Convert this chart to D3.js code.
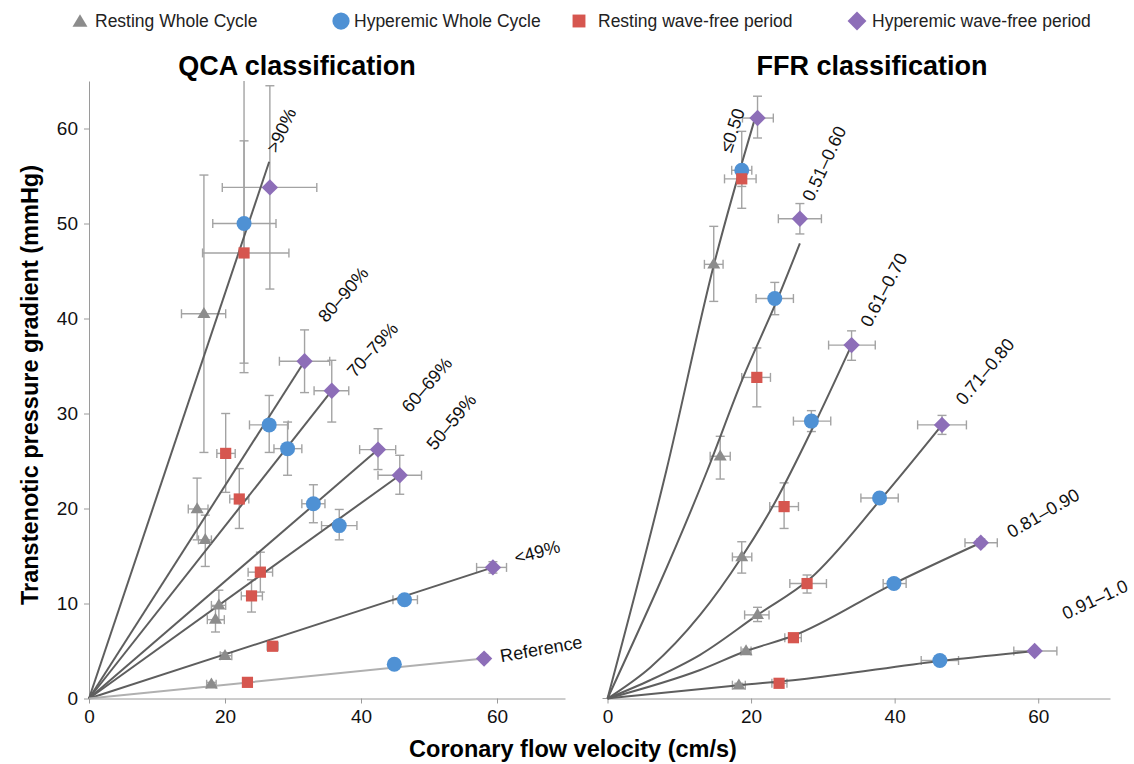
<!DOCTYPE html>
<html><head><meta charset="utf-8">
<script src="https://cdn.jsdelivr.net/npm/d3@7"></script>
<style>body{margin:0;background:#fff} svg{display:block;font-family:"Liberation Sans",Arial,Helvetica,sans-serif}</style>
</head><body><svg id="c" width="1134" height="764"></svg>
<script>
// ---------- data ----------
const seriesNames = ["Resting Whole Cycle","Hyperemic Whole Cycle","Resting wave-free period","Hyperemic wave-free period"];
const qcaClasses = [">90%","80–90%","70–79%","60–69%","50–59%","<49%","Reference"];
const ffrClasses = ["≤0.50","0.51–0.60","0.61–0.70","0.71–0.80","0.81–0.90","0.91–1.0"];
const xTicks = [0,20,40,60];
const yTicks = [0,10,20,30,40,50,60];

// each row: [velocity, gradient, velLo, velHi, gradLo, gradHi]
const qcaRestWhole = [
  [16.9,40.5,13.6,20.1,25.9,55.1],[15.9,19.95,14.6,17.5,16.7,23.2],[17.1,16.7,16.1,18.0,13.9,19.3],
  [19.1,9.8,18.0,20.1,8.3,11.4],[18.6,8.3,17.4,19.9,7.0,9.7],[20.0,4.5,19.3,21.0,4.2,4.8],[18.0,1.5,17.3,18.7,1.3,1.7]];
const qcaHypWhole = [
  [22.8,50.0,18.2,27.5,34.3,65.0],[26.5,28.8,23.6,29.3,25.9,31.9],[29.2,26.3,27.2,31.3,23.5,29.1],
  [33.0,20.5,31.3,34.7,18.5,22.5],[36.8,18.2,34.2,39.4,16.7,19.9],[46.4,10.4,44.7,48.3,10.0,10.8],[44.9,3.6,44.3,45.5,3.4,3.8]];
const qcaRestWF = [
  [22.8,46.9,16.7,29.4,35.3,58.7],[20.1,25.8,18.8,21.5,21.7,30.0],[22.1,21.0,20.7,23.5,17.9,24.2],
  [25.2,13.3,23.4,27.0,11.2,15.4],[23.9,10.8,22.4,25.5,9.1,12.5],[27.0,5.5,26.2,27.8,5.2,5.8],[23.3,1.7,22.8,23.8,1.5,1.9]];
const qcaHypWF = [
  [26.6,53.8,19.6,33.5,43.1,64.5],[31.7,35.5,28.0,35.4,32.2,38.8],[35.7,32.4,33.1,38.2,29.1,35.6],
  [42.5,26.2,39.8,45.1,24.1,28.4],[45.7,23.5,42.5,48.9,21.5,25.6],[59.4,13.8,57.0,61.4,13.2,14.4],[58.1,4.2,57.6,58.6,4.0,4.4]];

const ffrRestWhole = [
  [14.8,45.7,13.5,16.1,41.8,49.7],[15.7,25.5,14.3,17.1,23.1,27.6],[18.7,14.9,17.4,20.1,13.2,16.5],
  [20.9,8.8,19.1,22.5,8.1,9.6],[19.3,5.0,18.6,20.0,4.8,5.2],[18.3,1.4,17.4,19.2,1.2,1.6]];
const ffrHypWhole = [
  [18.7,55.6,17.3,20.1,51.6,59.7],[23.3,42.1,20.7,25.9,40.4,43.8],[28.4,29.2,25.9,31.1,28.1,30.3],
  [37.9,21.1,35.3,40.5,20.6,21.6],[39.9,12.1,38.4,41.6,11.8,12.4],[46.3,4.0,43.7,48.9,3.8,4.2]];
const ffrRestWF = [
  [18.7,54.7,16.3,20.7,53.9,55.5],[20.8,33.8,18.7,22.7,30.7,36.9],[24.6,20.2,22.6,26.6,17.9,22.7],
  [27.8,12.1,25.4,30.5,11.1,13.0],[25.9,6.4,24.7,27.0,6.2,6.6],[23.9,1.6,22.9,25.0,1.4,1.8]];
const ffrHypWF = [
  [20.9,61.1,18.8,23.1,59.0,63.4],[26.8,50.5,23.8,29.8,48.9,52.1],[34.0,37.2,30.8,37.3,35.6,38.7],
  [46.6,28.8,43.2,50.0,27.8,29.8],[52.0,16.4,49.8,54.3,16.0,16.8],[59.5,5.0,56.6,62.6,4.8,5.2]];

// fitted lines
const qcaFits = [
  [[0,0],[26.5,56.5]],[[0,0],[31.7,35.5]],[[0,0],[35.7,32.4]],[[0,0],[42.5,26.2]],
  [[0,0],[45.7,23.5]],[[0,0],[59.4,13.8]],[[0,0],[58.1,4.2]]];
const ffrFits = [
  [[0,0],[8.2,24.0],[14.8,45.6],[20.4,60.7]],
  [[0,0],[13.9,24.0],[18.9,33.8],[23.6,41.9],[26.8,47.9]],
  [[0,0],[6.0,3.3],[12.9,8.8],[18.7,14.9],[23.3,20.6],[28.6,28.5],[34.0,37.2]],
  [[0,0],[6.0,1.95],[12.9,4.6],[20.9,8.8],[28.2,12.6],[38.0,20.9],[46.6,28.8]],
  [[0,0],[12.9,3.0],[19.3,5.0],[25.9,6.6],[39.9,12.1],[52.0,16.4]],
  [[0,0],[18.3,1.4],[26.8,2.0],[46.3,3.95],[59.5,5.0]]];

// class label anchors (data units) and rotation
const qcaLabelAt = [[28.3,59.8,-65],[37.4,42.5,-49],[41.7,36.7,-48],[49.7,33.0,-49],[53.3,29.1,-50],[65.9,15.4,-15],[66.5,5.2,-10]];
const ffrLabelAt = [[17.4,59.8,-72],[30.2,56.3,-65],[38.5,43.0,-62],[52.6,34.4,-50],[60.7,19.5,-30],[67.9,10.4,-25]];

// ---------- drawing ----------
const svg = d3.select("#c");
const colors = ["#8c8c8c","#4f91d4","#d6564f","#8d6eb8"];
const axisCol = "#9a9a9a", errCol = "#a3a3a3";
const y = d3.scaleLinear().domain([0,65]).range([698.5,81]);
const xL = d3.scaleLinear().domain([0,70]).range([89,565]);
const xR = d3.scaleLinear().domain([0,70]).range([607.5,1110]);

function markerPath(k, s){
  if(k===0){ const w=6.5*s,h=11*s; return `M0,${-h*0.62}L${w},${h*0.38}L${-w},${h*0.38}Z`; }
  if(k===1){ return d3.symbol(d3.symbolCircle, Math.PI*7.5*7.5*s*s)(); }
  if(k===2){ const a=5.6*s; return `M${-a},${-a}H${a}V${a}H${-a}Z`; }
  const d=8.2*s; return `M0,${-d}L${d},0L0,${d}L${-d},0Z`;
}

function panel(x, series, fits, classes, labelAt, showY){
  const g = svg.append("g");
  // axes
  const xa = g.append("g").attr("transform",`translate(0,${y(0)})`)
    .call(d3.axisBottom(x).tickValues(xTicks).tickSize(5).tickPadding(6).tickSizeOuter(0));
  xa.select(".domain").attr("stroke",axisCol);
  xa.selectAll(".tick line").attr("stroke",axisCol);
  xa.selectAll("text").attr("font-size",19).attr("fill","#111").attr("font-family","Liberation Sans, Arial, sans-serif");
  if(showY){
    const ya = g.append("g").attr("transform",`translate(${x(0)},0)`)
      .call(d3.axisLeft(y).tickValues(yTicks).tickSize(5).tickPadding(6).tickSizeOuter(0));
    ya.select(".domain").attr("stroke",axisCol);
    ya.selectAll(".tick line").attr("stroke",axisCol);
    ya.selectAll("text").attr("font-size",19).attr("fill","#111").attr("font-family","Liberation Sans, Arial, sans-serif");
  } else {
    g.append("line").attr("x1",x(0)-5).attr("x2",x(0)).attr("y1",y(0)).attr("y2",y(0)).attr("stroke",axisCol);
  }
  // error bars
  const eb = g.append("g").attr("stroke",errCol).attr("stroke-width",1.4).attr("fill","none");
  series.forEach(arr=>arr.forEach(d=>{
    const cx=x(d[0]), cy=y(d[1]);
    const x1=x(d[2]), x2=x(d[3]), y1=y(Math.min(d[5],65)), y2=y(d[4]);
    if(x2-x1>3){
      eb.append("line").attr("x1",x1).attr("x2",x2).attr("y1",cy).attr("y2",cy);
      eb.append("line").attr("x1",x1).attr("x2",x1).attr("y1",cy-4.5).attr("y2",cy+4.5);
      eb.append("line").attr("x1",x2).attr("x2",x2).attr("y1",cy-4.5).attr("y2",cy+4.5);
    }
    if(y2-y1>3){
      eb.append("line").attr("x1",cx).attr("x2",cx).attr("y1",y1).attr("y2",y2);
      if(d[5]<65) eb.append("line").attr("x1",cx-4.5).attr("x2",cx+4.5).attr("y1",y1).attr("y2",y1);
      eb.append("line").attr("x1",cx-4.5).attr("x2",cx+4.5).attr("y1",y2).attr("y2",y2);
    }
  }));
  // fit lines
  const line = d3.line().x(p=>x(p[0])).y(p=>y(p[1])).curve(d3.curveMonotoneX);
  fits.forEach((f,i)=>{
    const isRef = classes[i]==="Reference";
    g.append("path").attr("d",line(f)).attr("fill","none")
      .attr("stroke",isRef?"#b0b0b0":"#5e5e5e").attr("stroke-width",2);
  });
  // markers
  series.forEach((arr,k)=>{
    g.append("g").selectAll("path").data(arr).join("path")
      .attr("d",markerPath(k,1)).attr("fill",colors[k])
      .attr("transform",d=>`translate(${x(d[0])},${y(d[1])})`);
  });
  // class labels
  g.append("g").selectAll("text").data(classes).join("text")
    .attr("transform",(c,i)=>`translate(${x(labelAt[i][0])},${y(labelAt[i][1])}) rotate(${labelAt[i][2]})`)
    .attr("text-anchor","middle").attr("dominant-baseline","central")
    .attr("font-size",18).attr("fill","#111").text(c=>c);
}

panel(xL,[qcaRestWhole,qcaHypWhole,qcaRestWF,qcaHypWF],qcaFits,qcaClasses,qcaLabelAt,true);
panel(xR,[ffrRestWhole,ffrHypWhole,ffrRestWF,ffrHypWF],ffrFits,ffrClasses,ffrLabelAt,false);

// titles
svg.append("text").attr("x",297).attr("y",75).attr("text-anchor","middle")
  .attr("font-size",27).attr("font-weight","bold").attr("fill","#000").text("QCA classification");
svg.append("text").attr("x",872).attr("y",75).attr("text-anchor","middle")
  .attr("font-size",27).attr("font-weight","bold").attr("fill","#000").text("FFR classification");
// axis titles
svg.append("text").attr("x",573).attr("y",757).attr("text-anchor","middle")
  .attr("font-size",23.5).attr("font-weight","bold").attr("fill","#000").text("Coronary flow velocity (cm/s)");
svg.append("text").attr("transform","translate(38,385) rotate(-90)").attr("text-anchor","middle")
  .attr("font-size",23.5).attr("font-weight","bold").attr("fill","#000").text("Transtenotic pressure gradient (mmHg)");

// legend
const legX = [80,341,579,857], legT = [95,354,598,872];
seriesNames.forEach((n,k)=>{
  svg.append("path").attr("d",markerPath(k,1.15)).attr("fill",colors[k])
    .attr("transform",`translate(${legX[k]},${k===0?22:21})`);
  svg.append("text").attr("x",legT[k]).attr("y",27).attr("font-size",17.5).attr("fill","#222").text(n);
});
</script></body></html>
